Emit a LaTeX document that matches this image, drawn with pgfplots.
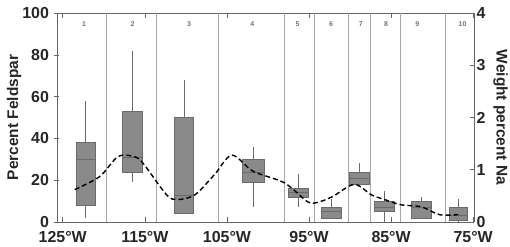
\documentclass[border=0pt]{standalone}
\usepackage{fontspec}
\setmainfont{Liberation Sans}
\usepackage{pgfplots}
\pgfplotsset{compat=1.18}
\usepgfplotslibrary{statistics}
\definecolor{boxfill}{HTML}{8A8A8A}
\definecolor{boxedge}{HTML}{6A6A6A}
\definecolor{divgray}{HTML}{A8A8A8}
\tikzset{rnum/.style={font=\bfseries\fontsize{7}{7}\selectfont, text=black!55}}
\pgfplotsset{
  base/.style={
    scale only axis, width=417bp, height=209bp,
    xmin=-125.7, xmax=-74.9,
    ymin=0, ymax=100,
    /pgf/number format/assume math mode=true,
    tick label style={font=\bfseries\fontsize{16}{16}\selectfont, text=black!85},
    axis line style={draw=black!60, line width=0.8pt},
    tick style={draw=black!60, line width=0.6pt},
  },
  bx/.style={boxplot prepared={draw position=#1, box extend=2.4, whisker extend=0}, draw=boxedge, fill=boxfill, line width=0.6pt},
}
\begin{document}
\begin{tikzpicture}
\begin{axis}[base, name=ax,
  axis y line*=left, axis x line*=box,
  xtick={-125,-115,-105,-95,-85,-75},
  xticklabels={125°W,115°W,105°W,95°W,85°W,75°W},
  ytick={0,20,40,60,80,100},
  ytick align=center, xtick align=inside,
  major tick length=5bp,
  ylabel={Percent Feldspar},
  every axis y label/.style={at={(axis description cs:-0.103,0.5)}, rotate=90, anchor=center,
    font=\bfseries\fontsize{15.5}{15.5}\selectfont, text=black!85},
  xticklabel style={anchor=north, inner sep=0pt, yshift=-9bp},
  yticklabel style={xshift=-2bp, inner ysep=0pt},
  extra x ticks={-119.65,-113.56,-106.0,-97.99,-94.33,-90.2,-87.5,-83.9,-78.4},
  extra x tick labels={},
  extra x tick style={grid=major, major grid style={draw=divgray, line width=0.7pt}, major tick length=0pt},
  boxplot/draw direction=y,
  clip=false,
]
\addplot[bx=-122.2, boxplot prepared={lower whisker=2, lower quartile=8, median=30, upper quartile=38, upper whisker=58}] coordinates {};
\addplot[bx=-116.5, boxplot prepared={lower whisker=19, lower quartile=24, median=31, upper quartile=53, upper whisker=82}] coordinates {};
\addplot[bx=-110.2, boxplot prepared={lower whisker=4, lower quartile=4, median=13, upper quartile=50, upper whisker=68, box extend=2.3}] coordinates {};
\addplot[bx=-101.8, boxplot prepared={lower whisker=7, lower quartile=19, median=24, upper quartile=30, upper whisker=36, box extend=2.6}] coordinates {};
\addplot[bx=-96.3, boxplot prepared={lower whisker=7, lower quartile=12, median=14, upper quartile=16, upper whisker=23}] coordinates {};
\addplot[bx=-92.3, boxplot prepared={lower whisker=2, lower quartile=2, median=5, upper quartile=7, upper whisker=11, box extend=2.5}] coordinates {};
\addplot[bx=-88.9, boxplot prepared={lower whisker=18, lower quartile=18, median=21, upper quartile=24, upper whisker=28, box extend=2.5}] coordinates {};
\addplot[bx=-85.8, boxplot prepared={lower whisker=0, lower quartile=5, median=7, upper quartile=10, upper whisker=15}] coordinates {};
\addplot[bx=-81.3, boxplot prepared={lower whisker=2, lower quartile=2, median=7, upper quartile=10, upper whisker=12}] coordinates {};
\addplot[bx=-76.8, boxplot prepared={lower whisker=0, lower quartile=1, median=3, upper quartile=7, upper whisker=11, box extend=2.2}] coordinates {};
\node[rnum] at (axis cs:-122.4,94.5) {1};
\node[rnum] at (axis cs:-116.5,94.5) {2};
\node[rnum] at (axis cs:-109.6,94.5) {3};
\node[rnum] at (axis cs:-101.9,94.5) {4};
\node[rnum] at (axis cs:-96.4,94.5) {5};
\node[rnum] at (axis cs:-92.3,94.5) {6};
\node[rnum] at (axis cs:-88.7,94.5) {7};
\node[rnum] at (axis cs:-85.6,94.5) {8};
\node[rnum] at (axis cs:-81.8,94.5) {9};
\node[rnum] at (axis cs:-76.3,94.5) {10};
\end{axis}
\begin{axis}[base,
  ymin=0, ymax=4,
  axis x line=none, axis y line*=right,
  ytick={0,1,2,3,4},
  tick align=inside, major tick length=4bp,
  yticklabel style={xshift=-1bp, inner ysep=0pt},
  ylabel={Weight percent Na},
  every axis y label/.style={at={(axis description cs:1.064,0.5)}, rotate=-90, anchor=center,
    font=\bfseries\fontsize{15.5}{15.5}\selectfont, text=black!85},
]
\addplot[black, line width=1.4pt, smooth, dash pattern=on 5bp off 3bp] coordinates {
(-123.54,0.62) (-120.5,0.87) (-118.3,1.25) (-116.5,1.26) (-115.3,1.14)
(-112.35,0.52) (-111.0,0.43) (-108.9,0.52) (-106.5,0.91) (-104.4,1.28)
(-101.8,0.97) (-98.0,0.75) (-95.2,0.39) (-94.1,0.37) (-92.2,0.48)
(-89.5,0.72) (-87.4,0.52) (-85.8,0.43) (-83.8,0.33) (-81.3,0.29)
(-79.1,0.14) (-76.8,0.14)
};
\end{axis}
\pgfresetboundingbox
\path ([xshift=-57bp,yshift=-25bp]ax.south west) rectangle ([xshift=36bp,yshift=13bp]ax.north east);
\end{tikzpicture}
\end{document}
